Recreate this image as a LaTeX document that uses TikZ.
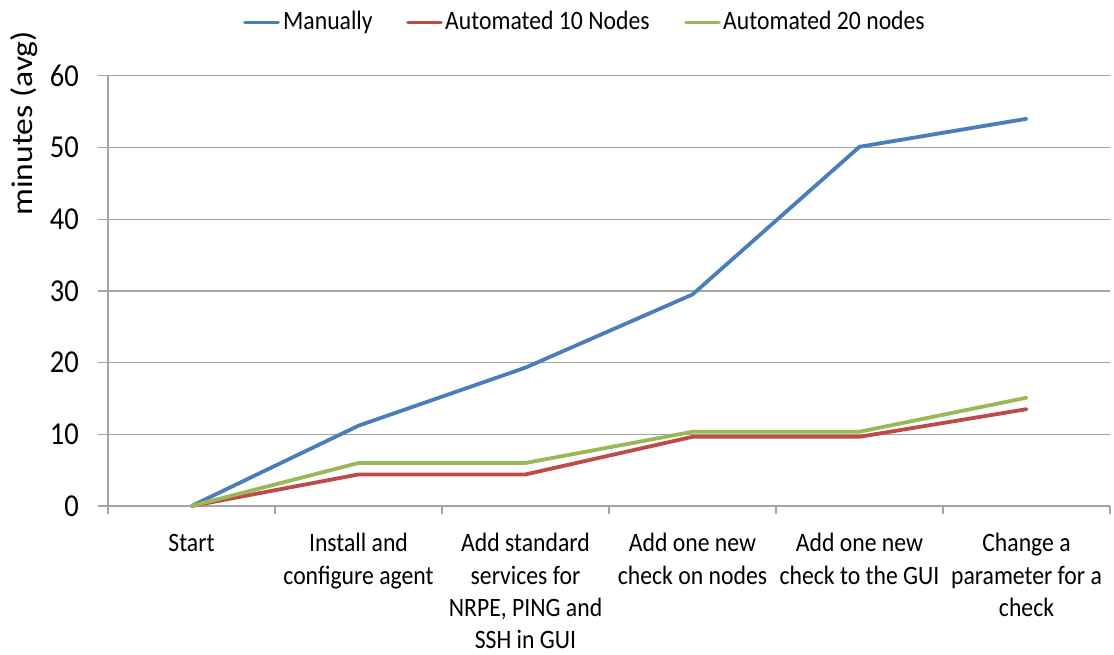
\documentclass[tikz,border=0pt]{standalone}
\usepackage{fontspec}
\setmainfont{Carlito}
\usepackage{graphicx}
% chart text is drawn slightly taller than wide
\newcommand{\tallbox}[1]{\scalebox{1}[1.12]{#1}}
\definecolor{manualblue}{HTML}{4A7EBB}
\definecolor{autoten}{HTML}{BE4B48}
\definecolor{autotwenty}{HTML}{98B954}
\definecolor{gridgray}{HTML}{A3A3A3}
\begin{document}
\begin{tikzpicture}[x=1pt,y=1pt,
  gridline/.style={draw=gridgray, line width=1.3pt},
  series/.style={line width=3.8pt, line cap=round, line join=round},
  legendline/.style={line width=3.8pt, line cap=round},
  cat/.style={anchor=base, inner sep=0pt, font=\fontsize{23.7}{28.6}\selectfont},
  ticklabel/.style={anchor=east, inner sep=0pt, font=\fontsize{28.5}{34}\selectfont},
  legtext/.style={anchor=base west, inner sep=0pt, font=\fontsize{23.7}{29}\selectfont}]
\useasboundingbox (0,0) rectangle (1114,655);

% value scale: 10 minutes = 71.7pt, zero line at 149pt
\begin{scope}[y=7.17pt, yshift=149pt]
  % horizontal gridlines and y tick labels
  \foreach \v in {10,20,...,60} {
    \draw[gridline] (98,\v) -- (1110,\v);
  }
  \foreach \v in {0,10,...,60} {
    \node[ticklabel] (yl\v) at (79,\v) {\tallbox{\v}};
  }
  % axes
  \draw[gridline] (98,0) -- (1110,0);
  \draw[gridline] (108,0) -- (108,60);
  \foreach \k in {0,...,6} {
    \draw[gridline] (108+167*\k,0) -- (108+167*\k,-1.1);
  }

  % data points
  \foreach \n/\m/\a [count=\i from 0] in
     {0/0/0, 11.2/4.4/6.0, 19.3/4.4/6.0, 29.5/9.65/10.35,
      50.1/9.65/10.35, 54.0/13.5/15.1} {
    \coordinate (m\i) at (191.5+167*\i,\n);
    \coordinate (r\i) at (191.5+167*\i,\m);
    \coordinate (g\i) at (191.5+167*\i,\a);
  }
  \draw[series, manualblue] (m0) -- (m1) -- (m2) -- (m3) -- (m4) -- (m5);
  \draw[series, autoten] (r0) -- (r1) -- (r2) -- (r3) -- (r4) -- (r5);
  \draw[series, autotwenty] (g0) -- (g1) -- (g2) -- (g3) -- (g4) -- (g5);
\end{scope}

% category labels
\node[cat] (c0) at (191.5,103) {\tallbox{\begin{tabular}[t]{@{}c@{}}Start\end{tabular}}};
\node[cat] (c1) at (358.5,103) {\tallbox{\begin{tabular}[t]{@{}c@{}}Install and\\configure agent\end{tabular}}};
\node[cat] (c2) at (525.5,103) {\tallbox{\begin{tabular}[t]{@{}c@{}}Add standard\\services for\\NRPE, PING and\\SSH in GUI\end{tabular}}};
\node[cat] (c3) at (692.5,103) {\tallbox{\begin{tabular}[t]{@{}c@{}}Add one new\\check on nodes\end{tabular}}};
\node[cat] (c4) at (859.5,103) {\tallbox{\begin{tabular}[t]{@{}c@{}}Add one new\\check to the GUI\end{tabular}}};
\node[cat] (c5) at (1026.5,103) {\tallbox{\begin{tabular}[t]{@{}c@{}}Change a\\parameter for a\\check\end{tabular}}};

% axis title
\node[rotate=90, anchor=base, inner sep=0pt, font=\fontsize{30}{36}\selectfont]
  (ytitle) at (32.5,531.5) {\scalebox{1.12}[1]{minutes (avg)}};

% legend
\coordinate (lm1) at (245,632.5);
\coordinate (lm2) at (278,632.5);
\draw[legendline, manualblue] (lm1) -- (lm2);
\node[legtext] (lmt) at (283,625) {\tallbox{Manually}};
\coordinate (lr1) at (408,632.5);
\coordinate (lr2) at (441,632.5);
\draw[legendline, autoten] (lr1) -- (lr2);
\node[legtext] (lrt) at (445,625) {\tallbox{Automated 10 Nodes}};
\coordinate (lg1) at (686,632.5);
\coordinate (lg2) at (719,632.5);
\draw[legendline, autotwenty] (lg1) -- (lg2);
\node[legtext] (lgt) at (723,625) {\tallbox{Automated 20 nodes}};
\end{tikzpicture}
\end{document}
